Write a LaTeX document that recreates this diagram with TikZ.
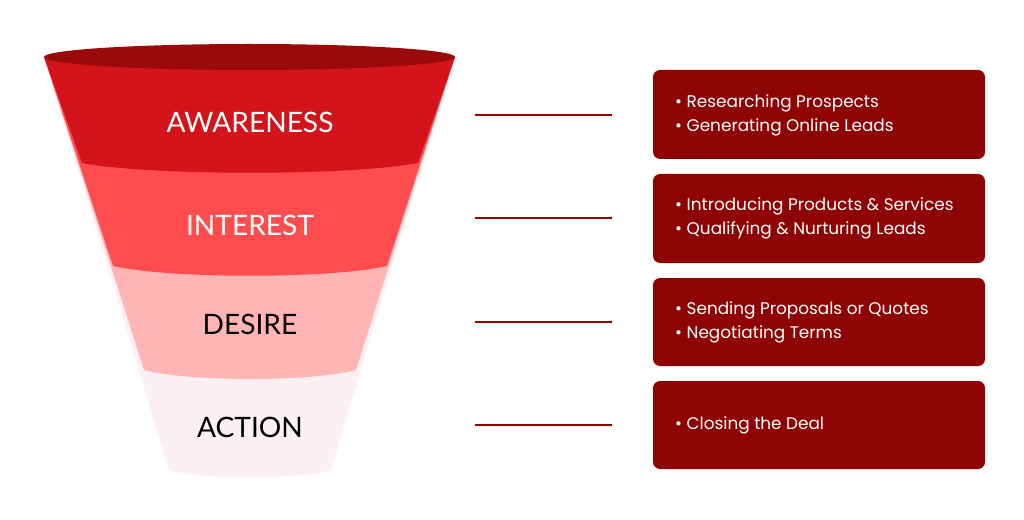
\documentclass[tikz,border=0pt]{standalone}
\usepackage{fontspec}
\setmainfont{Poppins}
\newfontfamily\labelfont{Lato}
\definecolor{topred}{HTML}{9B0A0A}
\definecolor{awred}{HTML}{D3141A}
\definecolor{inred}{HTML}{FD4D4F}
\definecolor{depink}{HTML}{FFB5B5}
\definecolor{acpink}{HTML}{FDF0F2}
\definecolor{boxred}{HTML}{8E0405}
\tikzset{
    stage/.style={font=\labelfont\fontsize{16}{18}\selectfont},
    stepbox/.style={fill=boxred, rounded corners=4pt, draw=none},
    steptext/.style={text=white, align=left, anchor=west, font=\fontsize{9.6}{13.6}\selectfont},
    link/.style={draw=boxred, line width=1.6pt},
}
\begin{document}
\begin{tikzpicture}[x={(0.02cm,0)}, y={(0,-0.02cm)}]
    \useasboundingbox (0, 0) rectangle (1024, 520);
    % funnel bands, drawn bottom first
    \fill[acpink] (44, 57) -- (169, 470) .. controls (200, 480) and (300, 480) .. (331, 470) -- (455, 57) -- cycle;
    \fill[depink] (44, 57) -- (144, 370) .. controls (190, 382) and (310, 382) .. (356, 370) -- (455, 57) -- cycle;
    \fill[inred] (44, 57) -- (113, 266) .. controls (170, 279) and (330, 279) .. (387, 266) -- (455, 57) -- cycle;
    \fill[awred] (44, 57) -- (82, 163) .. controls (150, 176) and (350, 176) .. (418, 163) -- (455, 57) -- cycle;
    \fill[topred] (249.5, 57) ellipse [x radius=205.5, y radius=13];
    % stage labels
    \node[stage, text=white] (aw) at (250, 122) {AWARENESS};
    \node[stage, text=white] (in) at (250, 225) {INTEREST};
    \node[stage] (de) at (250, 324) {DESIRE};
    \node[stage] (ac) at (250, 427) {ACTION};
    % step boxes
    \draw[stepbox] (653, 70) rectangle (985, 159);
    \node[steptext] (b1) at (669, 115) {• Researching Prospects\\• Generating Online Leads};
    \draw[stepbox] (653, 174) rectangle (985, 263);
    \node[steptext] (b2) at (669, 218) {• Introducing Products \& Services\\• Qualifying \& Nurturing Leads};
    \draw[stepbox] (653, 278) rectangle (985, 366);
    \node[steptext] (b3) at (669, 322) {• Sending Proposals or Quotes\\• Negotiating Terms};
    \draw[stepbox] (653, 381) rectangle (985, 469);
    \node[steptext] (b4) at (669, 425) {• Closing the Deal};
    % connecting lines
    \foreach \i/\y in {1/115, 2/218, 3/322, 4/425} {
        \coordinate (l\i) at (475, \y);
        \coordinate (r\i) at (612, \y);
        \draw[link] (l\i) -- (r\i);
    }
\end{tikzpicture}
\end{document}
